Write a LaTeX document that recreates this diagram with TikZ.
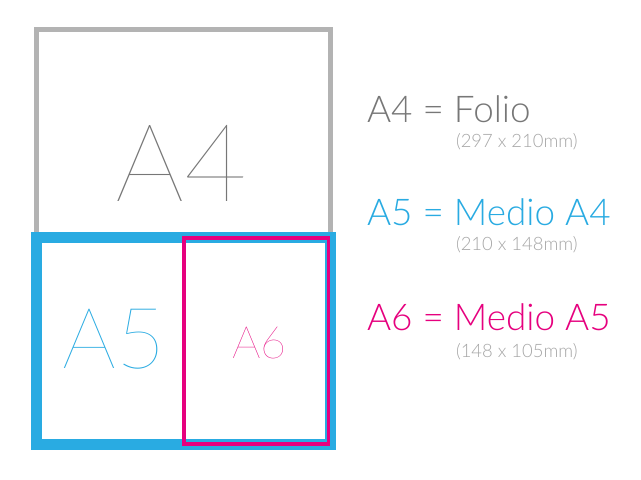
\documentclass[tikz,border=0pt]{standalone}
\usepackage{fontspec}
\setmainfont{Lato Light}
\newfontfamily\hair{Lato Hairline}
\definecolor{agray}{HTML}{B3B3B3}
\definecolor{tgray}{HTML}{777777}
\definecolor{lgray}{HTML}{A6A6A6}
\definecolor{ablue}{HTML}{29ABE2}
\definecolor{apink}{HTML}{E6007E}
\begin{document}
\begin{tikzpicture}[x=1bp,y=-1bp,
  lbl/.style={inner sep=0pt, outer sep=0pt},
  title/.style={lbl, anchor=base west, font=\fontsize{37}{37}\selectfont},
  dims/.style={lbl, anchor=base west, text=lgray, font=\fontsize{18.5}{18.5}\selectfont}]
\useasboundingbox[fill=white] (0,0) rectangle (641,480);
% sheets
\draw[agray, line width=5bp] (36.5,237) -- (36.5,30) -- (330.5,30) -- (330.5,237);
\path[fill=white] (36.5,237.5) rectangle (330.5,444.5);
\draw[ablue, line width=11bp] (36.5,237.5) rectangle (330.5,444.5);
\draw[apink, line width=3.5bp] (184,238) rectangle (328.5,444);
% big labels
\node[lbl, anchor=base, text=tgray, font=\hair\fontsize{109}{109}\selectfont] (a4) at (181.5,202) {A4};
\node[lbl, anchor=base, text=ablue, font=\hair\fontsize{85}{85}\selectfont] (a5) at (114.5,368) {A5};
\node[lbl, anchor=base, text=apink, font=\hair\fontsize{45}{45}\selectfont] (a6) at (259.5,358) {A6};
% legend
\node[title, text=tgray] (t4) at (367,123) {A4 = Folio};
\node[dims] (d4) at (456,148) {(297 x 210mm)};
\node[title, text=ablue] (t5) at (367,226) {A5 = Medio A4};
\node[dims] (d5) at (456,251) {(210 x 148mm)};
\node[title, text=apink] (t6) at (367,330) {A6 = Medio A5};
\node[dims] (d6) at (456,357) {(148 x 105mm)};
\end{tikzpicture}
\end{document}
